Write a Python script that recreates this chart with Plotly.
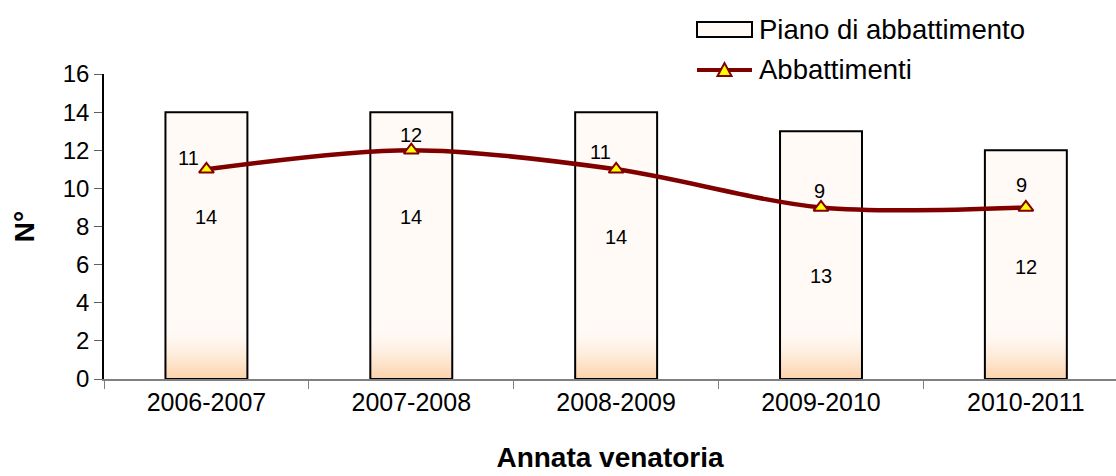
import plotly.graph_objects as go

# ---- data -------------------------------------------------------------
seasons = ["2006-2007", "2007-2008", "2008-2009", "2009-2010", "2010-2011"]
piano = [14, 14, 14, 13, 12]          # Piano di abbattimento
abbattimenti = [11, 12, 11, 9, 9]     # Abbattimenti
# vertical placement (axis units) of the labels written inside the bars
piano_label_y = [8.5, 8.5, 7.45, 5.4, 5.9]
# placement of the line labels relative to each marker (pixels)
abb_label_dx = [-18, 0, -16, -2, -4]
abb_label_dy = [-11, -15, -17, -16, -22]

FONT = "Arial, Liberation Sans, sans-serif"
LINE_RED = "#800000"
BAR_TOP = (255, 250, 245)
BAR_BOTTOM = (252, 210, 170)

# plot-area geometry (pixels) used for paper <-> pixel conversion
W, H = 1116, 476
ML, MR, MT, MB = 104, 0, 74, 97
PW, PH = W - ML - MR, H - MT - MB


def px(x):
    return (x - ML) / PW


def py(y):
    return (H - MB - y) / PH


fig = go.Figure()

BARGAP = 0.6

# bar body
fig.add_trace(go.Bar(
    x=seasons, y=piano, name="Piano di abbattimento",
    marker=dict(color="rgb(%d,%d,%d)" % BAR_TOP, line=dict(width=0)),
    showlegend=False, hoverinfo="skip",
))

# warm gradient toward the base of each bar, built from thin stacked strips
n_strips = 28
depth = 2.7
step = depth / n_strips
for i in range(n_strips):
    t = 1 - i / (n_strips - 1)          # 1 at the base, 0 at the top of the band
    t = t ** 1.6
    c = tuple(round(BAR_TOP[k] + (BAR_BOTTOM[k] - BAR_TOP[k]) * t) for k in range(3))
    fig.add_trace(go.Bar(
        x=seasons, y=[step] * len(seasons), base=[i * step] * len(seasons),
        marker=dict(color="rgb(%d,%d,%d)" % c, line=dict(width=0)),
        showlegend=False, hoverinfo="skip",
    ))

# bar outline on top
fig.add_trace(go.Bar(
    x=seasons, y=piano,
    marker=dict(color="rgba(0,0,0,0)", line=dict(color="black", width=2)),
    showlegend=False, hoverinfo="skip",
))

# harvest line
fig.add_trace(go.Scatter(
    x=seasons, y=abbattimenti, name="Abbattimenti",
    mode="lines+markers",
    line=dict(color=LINE_RED, width=4.5, shape="spline", smoothing=0.9),
    marker=dict(symbol="triangle-up", size=13, color="#ffff00",
                line=dict(color=LINE_RED, width=2)),
    showlegend=False,
))

annotations = []
for s, v, ly in zip(seasons, piano, piano_label_y):
    annotations.append(dict(x=s, y=ly, text=str(v), showarrow=False,
                            font=dict(family=FONT, size=20, color="black")))
for s, v, dx, dy in zip(seasons, abbattimenti, abb_label_dx, abb_label_dy):
    annotations.append(dict(x=s, y=v, text=str(v), showarrow=False,
                            xshift=dx, yshift=-dy,
                            font=dict(family=FONT, size=20, color="black")))

# legend drawn by hand
LEG_X0, LEG_X1 = 697, 752
annotations.append(dict(xref="paper", yref="paper", x=px(757), y=py(29),
                        xanchor="left", yanchor="middle", showarrow=False,
                        text="Piano di abbattimento",
                        font=dict(family=FONT, size=27.5, color="black")))
annotations.append(dict(xref="paper", yref="paper", x=px(757), y=py(70),
                        xanchor="left", yanchor="middle", showarrow=False,
                        text="Abbattimenti",
                        font=dict(family=FONT, size=27.5, color="black")))

shapes = [
    dict(type="rect", xref="paper", yref="paper",
         x0=px(LEG_X0), x1=px(LEG_X1), y0=py(37), y1=py(22),
         fillcolor="rgb(%d,%d,%d)" % BAR_TOP, line=dict(color="black", width=2)),
    dict(type="line", xref="paper", yref="paper",
         x0=px(LEG_X0), x1=px(LEG_X1), y0=py(70), y1=py(70),
         line=dict(color=LINE_RED, width=4)),
    dict(type="path", xref="paper", yref="paper",
         path="M %f %f L %f %f L %f %f Z" % (px(717.5), py(76), px(731.5), py(76), px(724.5), py(63)),
         fillcolor="#ffff00", line=dict(color=LINE_RED, width=2)),
]

fig.update_layout(
    width=W, height=H,
    margin=dict(l=ML, r=MR, t=MT, b=MB),
    paper_bgcolor="white", plot_bgcolor="white",
    barmode="overlay", bargap=BARGAP,
    showlegend=False,
    font=dict(family=FONT, color="black"),
    annotations=annotations, shapes=shapes,
    xaxis=dict(
        title=dict(text="<b>Annata venatoria</b>", font=dict(family=FONT, size=28),
                   standoff=33),
        tickfont=dict(family=FONT, size=25),
        range=[-0.5, 4.44],
        showline=True, linecolor="#808080", linewidth=1.5,
        ticks="outside", tickson="boundaries", ticklen=8, tickcolor="#808080",
        showgrid=False, zeroline=False,
    ),
    yaxis=dict(
        title=dict(text="<b>N°</b>", font=dict(family=FONT, size=28), standoff=20),
        range=[0, 16], dtick=2,
        tickfont=dict(family=FONT, size=24),
        showline=True, linecolor="black", linewidth=1.5,
        ticks="outside", ticklen=8, tickcolor="#606060",
        showgrid=False, zeroline=False,
    ),
)

fig.write_html("out.html")
